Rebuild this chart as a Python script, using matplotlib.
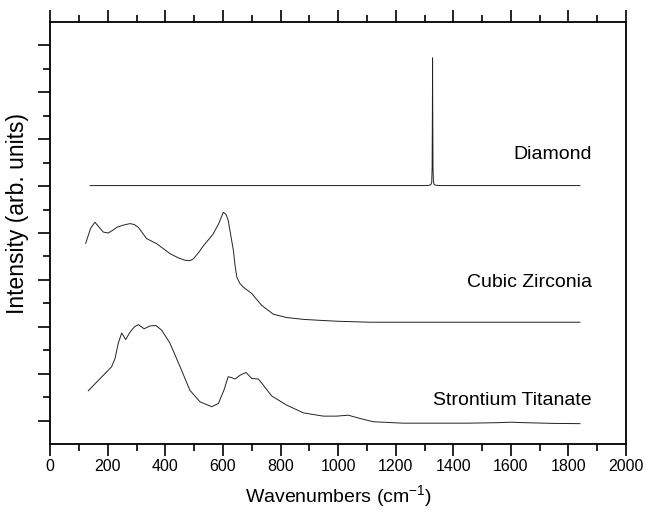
import matplotlib
matplotlib.use("Agg")
import matplotlib.pyplot as plt
from matplotlib.ticker import MultipleLocator

plt.rcParams['font.family'] = ['Liberation Sans', 'DejaVu Sans']

# Diamond spectrum (offset)
diamond_x = [138, 400, 800, 1200, 1300, 1315, 1322, 1325, 1326.5, 1327.5, 1328, 1328.5, 1329.5, 1331, 1334, 1341, 1360, 1500, 1700, 1840]
diamond_y = [5.51, 5.51, 5.51, 5.51, 5.51, 5.515, 5.53, 5.58, 5.9, 7.2, 8.23, 7.2, 5.9, 5.58, 5.53, 5.515, 5.51, 5.51, 5.51, 5.51]

# Cubic Zirconia spectrum (offset)
cz_x = [123, 140, 155, 170, 184, 201, 215, 231, 255, 277, 292, 306, 320, 335, 370, 416, 445, 468, 485, 497, 515, 532, 550, 566, 585, 601, 610, 618, 627, 636, 642, 648, 658, 670, 700, 734, 775, 821, 880, 937, 1000, 1111, 1300, 1500, 1700, 1840]
cz_y = [4.28, 4.60, 4.73, 4.62, 4.52, 4.50, 4.55, 4.62, 4.67, 4.70, 4.68, 4.62, 4.50, 4.38, 4.27, 4.06, 3.97, 3.92, 3.91, 3.95, 4.08, 4.23, 4.36, 4.48, 4.70, 4.94, 4.90, 4.77, 4.45, 4.13, 3.80, 3.56, 3.43, 3.35, 3.21, 2.96, 2.77, 2.70, 2.66, 2.64, 2.62, 2.60, 2.60, 2.60, 2.60, 2.60]

# Strontium Titanate spectrum (offset)
st_x = [132, 173, 213, 225, 236, 248, 262, 277, 292, 306, 326, 346, 367, 387, 416, 451, 485, 520, 561, 584, 603, 618, 630, 642, 659, 680, 700, 723, 740, 769, 821, 879, 948, 995, 1035, 1076, 1122, 1226, 1284, 1450, 1550, 1600, 1650, 1750, 1840]
st_y = [1.14, 1.40, 1.65, 1.83, 2.15, 2.37, 2.23, 2.39, 2.50, 2.55, 2.46, 2.52, 2.53, 2.43, 2.15, 1.65, 1.15, 0.905, 0.80, 0.87, 1.15, 1.44, 1.42, 1.39, 1.47, 1.53, 1.40, 1.39, 1.26, 1.03, 0.835, 0.67, 0.60, 0.60, 0.62, 0.55, 0.48, 0.45, 0.45, 0.45, 0.46, 0.47, 0.46, 0.445, 0.44]

labels = ["Diamond", "Cubic Zirconia", "Strontium Titanate"]
label_x = [1882, 1882, 1882]
label_y = [6.17, 3.45, 0.94]

fig = plt.figure(figsize=(6.46, 5.11), dpi=100)
ax = fig.add_axes([50.3/646, 1 - 444.3/511, (626 - 50.3)/646, (444.3 - 21.7)/511])

lc = '#222222'
ax.plot(diamond_x, diamond_y, color=lc, lw=0.7)
ax.plot(cz_x, cz_y, color=lc, lw=0.7)
ax.plot(st_x, st_y, color=lc, lw=0.7)

for t, x, y in zip(labels, label_x, label_y):
    ax.text(x, y, t, ha='right', va='center', fontsize=14)

ax.set_xlim(0, 2000)
ax.set_ylim(0, 9)
ax.xaxis.set_major_locator(MultipleLocator(200))
ax.xaxis.set_minor_locator(MultipleLocator(100))
ax.set_yticks([0.5 + i for i in range(9)])
ax.set_yticks([i for i in range(1, 9)], minor=True)
ax.set_yticklabels([])

ax.tick_params(axis='x', which='both', direction='out', top=True, bottom=True, labelsize=11.5, pad=2, width=1.2)
ax.tick_params(axis='y', which='both', direction='out', left=True, right=False, width=1.2)
ax.tick_params(which='major', length=8.5)
ax.tick_params(which='minor', length=5)
for s in ax.spines.values():
    s.set_linewidth(1.3)

ax.set_xlabel("Wavenumbers (cm$^{\\mathregular{-1}}$)", fontsize=14, labelpad=7)
fig.text(18/646, 1 - 214/511, "Intensity (arb. units)", rotation=90, ha='center', va='center', fontsize=16.5)

fig.savefig("out.png", dpi=100)
